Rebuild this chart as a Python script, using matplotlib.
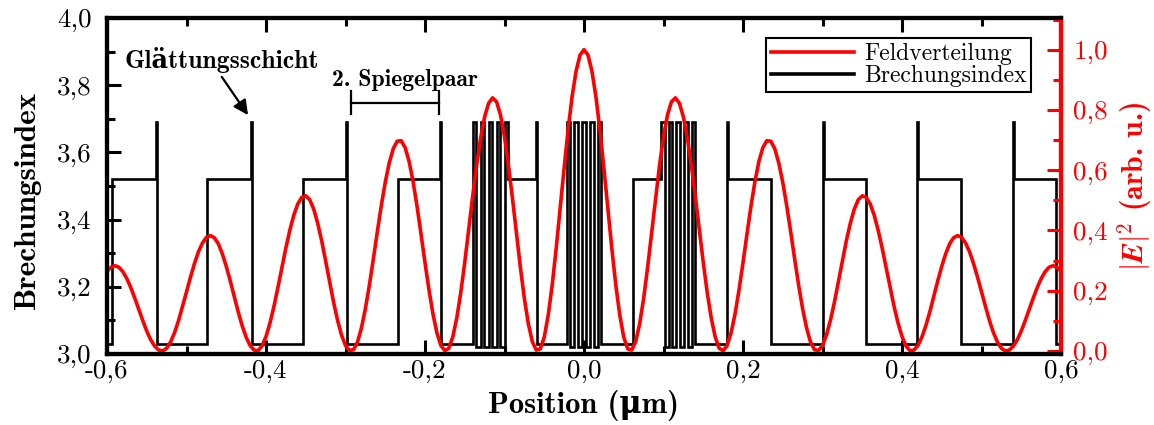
import numpy as np
import matplotlib.pyplot as plt
from matplotlib.lines import Line2D
from matplotlib.ticker import MultipleLocator, FuncFormatter

plt.rcParams['mathtext.fontset'] = 'cm'
plt.rcParams['font.family'] = ['cmr10', 'DejaVu Serif']
plt.rcParams['axes.unicode_minus'] = False

# refractive index profile: layer start positions (um) and index of each layer
layer_edges = [-0.600, -0.594, -0.5385, -0.537, -0.474, -0.4185, -0.417, -0.354,
               -0.2995, -0.298, -0.234, -0.1815, -0.180,
               -0.1400, -0.1355, -0.1299, -0.1254, -0.1198, -0.1153, -0.1097, -0.1052, -0.0996,
               -0.0950, -0.0610, -0.0595,
               -0.0220, -0.0176, -0.0124, -0.0080, -0.0022, 0.0022, 0.0080, 0.0124, 0.0176,
               0.0220, 0.0620,
               0.0970, 0.1014, 0.1066, 0.1110, 0.1162, 0.1206, 0.1258, 0.1302, 0.1354,
               0.1400, 0.1800, 0.1815, 0.2350, 0.3000, 0.3015, 0.3550, 0.4185, 0.4200,
               0.4740, 0.5400, 0.5415, 0.5940, 0.6000]
layer_n = [3.03, 3.52, 3.69, 3.03, 3.52, 3.69, 3.03, 3.52,
           3.69, 3.03, 3.52, 3.69, 3.03,
           3.69, 3.02, 3.69, 3.02, 3.69, 3.02, 3.69, 3.02, 3.69,
           3.52, 3.69, 3.03,
           3.69, 3.02, 3.69, 3.02, 3.69, 3.02, 3.69, 3.02, 3.69,
           3.03, 3.52,
           3.69, 3.02, 3.69, 3.02, 3.69, 3.02, 3.69, 3.02, 3.69,
           3.03, 3.69, 3.52, 3.03, 3.69, 3.52, 3.03, 3.69, 3.52,
           3.03, 3.69, 3.52, 3.03]

# field intensity |E|^2, read for x = 0 ... 0.6 um (profile is symmetric)
field_x_half = np.linspace(0.0, 0.6, 121)
field_half = [1.000, 0.982, 0.928, 0.844, 0.734, 0.607, 0.473, 0.340, 0.219, 0.119,
              0.046, 0.007, 0.003, 0.031, 0.090, 0.174, 0.277, 0.391, 0.507, 0.616,
              0.711, 0.783, 0.827, 0.840, 0.822, 0.777, 0.707, 0.617, 0.514, 0.403,
              0.294, 0.194, 0.110, 0.047, 0.009, 0.001, 0.018, 0.060, 0.123, 0.203,
              0.293, 0.388, 0.480, 0.562, 0.629, 0.675, 0.698, 0.696, 0.671, 0.624,
              0.560, 0.482, 0.395, 0.305, 0.218, 0.140, 0.076, 0.029, 0.004, 0.002,
              0.018, 0.053, 0.102, 0.162, 0.230, 0.299, 0.366, 0.424, 0.471, 0.502,
              0.515, 0.510, 0.488, 0.451, 0.401, 0.342, 0.277, 0.211, 0.148, 0.093,
              0.048, 0.017, 0.001, 0.003, 0.018, 0.046, 0.084, 0.130, 0.181, 0.233,
              0.281, 0.323, 0.356, 0.376, 0.383, 0.377, 0.358, 0.329, 0.290, 0.245,
              0.196, 0.148, 0.101, 0.061, 0.030, 0.009, 0.000, 0.003, 0.016, 0.037,
              0.066, 0.101, 0.138, 0.175, 0.210, 0.240, 0.263, 0.278, 0.283, 0.278,
              0.265]

field_x = np.concatenate([-field_x_half[::-1], field_x_half[1:]])
field = np.concatenate([np.array(field_half)[::-1], np.array(field_half)[1:]])

fmt = FuncFormatter(lambda v, p: ('%.1f' % (0.0 if abs(v) < 1e-9 else v)).replace('.', ','))
bold = ['cmb10', 'DejaVu Serif']

fig = plt.figure(figsize=(11.54, 4.25), dpi=100)
ax = fig.add_axes([107 / 1154, 71 / 425, 954 / 1154, 336 / 425])
ax.stairs(layer_n, layer_edges, baseline=None, color='k', lw=1.9)
ax.set_xlim(-0.6, 0.6)
ax.set_ylim(3.0, 4.0)

ax.xaxis.set_major_locator(MultipleLocator(0.2))
ax.xaxis.set_minor_locator(MultipleLocator(0.1))
ax.yaxis.set_major_locator(MultipleLocator(0.2))
ax.yaxis.set_minor_locator(MultipleLocator(0.1))
ax.xaxis.set_major_formatter(fmt)
ax.yaxis.set_major_formatter(fmt)
ax.tick_params(which='both', direction='in', top=True, right=False, width=2.2, labelsize=19.5)
ax.tick_params(which='major', length=10)
ax.tick_params(which='minor', length=5.5)
ax.tick_params(axis='x', which='major', pad=4)
ax.tick_params(axis='y', which='major', pad=11)
for s in ax.spines.values():
    s.set_linewidth(3)

ax.set_xlabel('Position (\u03bcm)', family=bold, fontweight='bold', fontsize=22)
ax.xaxis.set_label_coords(0.5, -0.107)
ax.set_ylabel('Brechungsindex', family=bold, fontweight='bold', fontsize=22.5)
ax.yaxis.set_label_coords(-0.069, 0.458)

ax2 = ax.twinx()
ax2.plot(field_x, field, color='red', lw=2.6)
ax2.set_ylim(-0.01, 1.105)
ax2.yaxis.set_major_locator(MultipleLocator(0.2))
ax2.yaxis.set_minor_locator(MultipleLocator(0.1))
ax2.yaxis.set_major_formatter(fmt)
ax2.tick_params(which='both', direction='in', colors='red', width=2.2, labelsize=19.5)
ax2.tick_params(which='major', length=10, pad=9)
ax2.tick_params(which='minor', length=5.5)
ax2.spines['right'].set_color('red')
for s in ax2.spines.values():
    s.set_linewidth(3)
ax2.set_ylabel(r'$|\mathbfit{E}|^{\mathbf{2}}$ (arb. u.)', family=bold,
               fontweight='bold', fontsize=21.5, color='red')
ax2.yaxis.set_label_coords(1.057, 0.5)

# annotations
ax.text(-0.4557, 3.852, 'Glättungsschicht', family=bold,
        fontweight='bold', fontsize=18.5, ha='center', va='baseline')
ax.annotate('', xy=(-0.4226, 3.711), xytext=(-0.4557, 3.825),
            arrowprops=dict(arrowstyle='-|>', color='k', lw=1.6, mutation_scale=22,
                            shrinkA=0, shrinkB=0))
ax.text(-0.2255, 3.7975, '2. Spiegelpaar', family=bold,
        fontweight='bold', fontsize=17, ha='center', va='baseline')
ax.plot([-0.2931, -0.1824], [3.748, 3.748], color='k', lw=1.6)
ax.plot([-0.2931, -0.2931], [3.713, 3.783], color='k', lw=1.6)
ax.plot([-0.1824, -0.1824], [3.713, 3.783], color='k', lw=1.6)

handles = [Line2D([], [], color='red', lw=2.6), Line2D([], [], color='k', lw=2.6)]
leg = ax2.legend(handles, ['Feldverteilung', 'Brechungsindex'], loc='upper right',
                 bbox_to_anchor=(0.969, 0.939), borderaxespad=0, fontsize=17,
                 fancybox=False, framealpha=1, edgecolor='k', borderpad=0.2,
                 labelspacing=0.0, handlelength=3.5, handletextpad=0.45)
leg.get_frame().set_linewidth(1.5)

fig.savefig('out.png', dpi=100)
